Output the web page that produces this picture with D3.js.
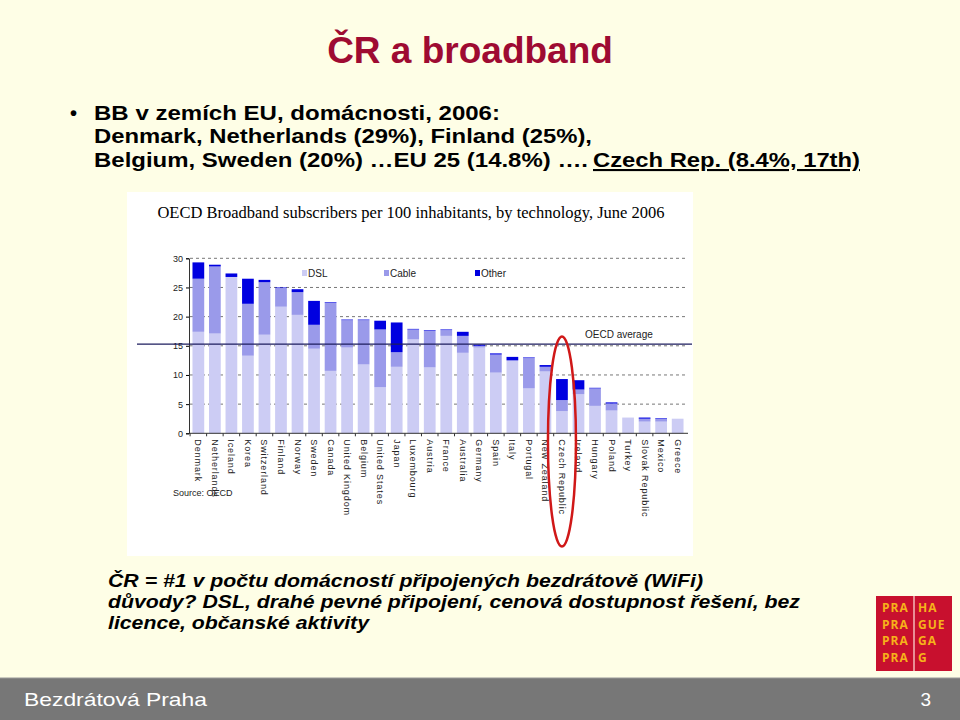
<!DOCTYPE html>
<html>
<head>
<meta charset="utf-8">
<script src="https://cdn.jsdelivr.net/npm/d3@7"></script>
<style>
  body { margin: 0; background: #fefee6; }
  svg { display: block; }
</style>
</head>
<body>
<svg id="slide" width="960" height="720"></svg>
<script>
// data (per 100 inhabitants, cumulative DSL / +cable / +other)
var countries = ["Denmark", "Netherlands", "Iceland", "Korea", "Switzerland", "Finland", "Norway", "Sweden", "Canada", "United Kingdom", "Belgium", "United States", "Japan", "Luxembourg", "Austria", "France", "Australia", "Germany", "Spain", "Italy", "Portugal", "New Zealand", "Czech Republic", "Ireland", "Hungary", "Poland", "Turkey", "Slovak Republic", "Mexico", "Greece"];
var dsl   = [17.4, 17.1, 26.8, 13.3, 16.9, 21.7, 20.3, 14.5, 10.7, 14.7, 11.8, 7.9, 11.4, 16.1, 11.3, 16.7, 13.8, 14.7, 10.4, 12.5, 7.7, 10.6, 3.8, 6.7, 4.7, 3.9, 2.7, 2.0, 2.0, 2.5];
var cable = [9.1, 11.5, 0.0, 8.9, 9.0, 3.2, 3.9, 4.1, 11.7, 4.7, 7.6, 9.9, 2.5, 1.7, 6.3, 1.0, 2.9, 0.3, 3.1, 0.0, 5.2, 0.8, 1.9, 0.8, 3.0, 1.2, 0.0, 0.5, 0.5, 0.0];
var other = [2.8, 0.3, 0.6, 4.3, 0.4, 0.1, 0.5, 4.1, 0.1, 0.1, 0.1, 1.5, 5.1, 0.1, 0.1, 0.1, 0.7, 0.2, 0.2, 0.6, 0.1, 0.3, 3.6, 1.6, 0.1, 0.2, 0.0, 0.2, 0.1, 0.0];
var oecdAverage = 15.3;
var yTicks = [0, 5, 10, 15, 20, 25, 30];
var seriesNames = ["DSL", "Cable", "Other"];
var seriesColors = ["#ccccf4", "#9a9aea", "#0000e0"];

var svg = d3.select("#slide");
var sans = "'Liberation Sans', Arial, sans-serif";
var narrow = "'Liberation Sans Narrow', 'Liberation Sans', sans-serif";

// slide header
svg.append("text").attr("x", 470).attr("y", 63).attr("text-anchor", "middle")
  .style("font", "bold 37px " + sans).style("fill", "#9e0b32")
  .text("ČR a broadband");

svg.append("text").attr("x", 70).attr("y", 120)
  .style("font", "bold 20px " + sans).text("•");

// text lines stretched to the width they have on the slide
function line(txt, x0, y0, w, font, underline) {
  var t = svg.append("text").attr("x", x0).attr("y", y0)
    .attr("textLength", w).attr("lengthAdjust", "spacingAndGlyphs")
    .style("font", font).style("fill", "#000").text(txt);
  if (underline) t.style("text-decoration", "underline");
  return t;
}
var bfont = "bold 21px " + sans;
line("BB v zemích EU, domácnosti, 2006:", 94, 120, 406, bfont);
line("Denmark, Netherlands (29%), Finland (25%),", 94, 143, 498, bfont);
line("Belgium, Sweden (20%) …EU 25 (14.8%) ….", 94, 167, 494, bfont);
line("Czech Rep. (8.4%, 17th)", 593, 167, 267, bfont, true);

// chart picture
var chart = svg.append("g");
chart.append("rect").attr("x", 127).attr("y", 192).attr("width", 566).attr("height", 364).attr("fill", "#fff");
chart.append("text").attr("x", 411).attr("y", 218).attr("text-anchor", "middle")
  .style("font", "16.5px 'Liberation Serif', 'Times New Roman', serif")
  .text("OECD Broadband subscribers per 100 inhabitants, by technology, June 2006");

var x = d3.scaleBand().domain(countries).range([190, 686]).paddingInner(0.29).paddingOuter(0.15);
var y = d3.scaleLinear().domain([0, 30]).range([433.3, 258.3]);

// dashed grid
chart.append("g").selectAll("line").data(yTicks.slice(1)).enter().append("line")
  .attr("x1", 190).attr("x2", 688).attr("y1", d => y(d)).attr("y2", d => y(d))
  .attr("stroke", "#777").attr("stroke-width", 1).attr("stroke-dasharray", "3,3");

// stacked bars
var rows = countries.map((c, i) => ({ name: c, DSL: dsl[i], Cable: cable[i], Other: other[i] }));
var stack = d3.stack().keys(seriesNames)(rows);
chart.append("g").selectAll("g").data(stack).enter().append("g")
  .attr("fill", (d, i) => seriesColors[i])
  .selectAll("rect").data(d => d).enter().append("rect")
  .attr("x", d => x(d.data.name))
  .attr("width", x.bandwidth())
  .attr("y", d => y(d[1]))
  .attr("height", d => Math.max(0, y(d[0]) - y(d[1])));

// axes
var yAxis = chart.append("g").attr("transform", "translate(189,0)")
  .call(d3.axisLeft(y).tickValues(yTicks).tickSize(3).tickPadding(3));
yAxis.select(".domain").attr("stroke", "#333");
yAxis.selectAll("text").style("font", "9px " + narrow).attr("fill", "#222");

chart.append("line").attr("x1", 189).attr("x2", 688).attr("y1", y(0)).attr("y2", y(0)).attr("stroke", "#333");
chart.append("g").selectAll("line").data(countries).enter().append("line")
  .attr("x1", d => x(d) - x.step() * 0.145).attr("x2", d => x(d) - x.step() * 0.145)
  .attr("y1", y(0)).attr("y2", y(0) + 3).attr("stroke", "#333");

chart.append("g").selectAll("text").data(countries).enter().append("text")
  .attr("transform", d => "translate(" + (x(d) + x.bandwidth() / 2) + "," + (y(0) + 6) + ") rotate(90)")
  .attr("dominant-baseline", "central")
  .style("font", "9px " + narrow)
  .style("letter-spacing", "0.9px").attr("fill", "#222")
  .text(d => d);

chart.append("text").attr("x", 173).attr("y", 496)
  .style("font", "9px " + narrow).attr("fill", "#222")
  .text("Source: OECD");

// legend
var legendX = [302, 384, 475];
var lg = chart.append("g").selectAll("g").data(seriesNames).enter().append("g")
  .attr("transform", (d, i) => "translate(" + legendX[i] + ",269)");
lg.append("rect").attr("width", 5).attr("height", 6).attr("y", 1).attr("fill", (d, i) => seriesColors[i]);
lg.append("text").attr("x", 6).attr("y", 8)
  .style("font", "10px " + narrow).attr("fill", "#222")
  .text(d => d);

// OECD average line
chart.append("line").attr("x1", 137).attr("x2", 692).attr("y1", y(oecdAverage)).attr("y2", y(oecdAverage))
  .attr("stroke", "#1c1c5e").attr("stroke-width", 1.3);
chart.append("text").attr("x", 585).attr("y", 338)
  .style("font", "10px " + narrow).attr("fill", "#222")
  .text("OECD average");

// red mark around Czech Republic
var cz = x("Czech Republic") + x.bandwidth() / 2;
chart.append("ellipse").attr("cx", cz).attr("cy", 441.5).attr("rx", 14).attr("ry", 105)
  .attr("fill", "none").attr("stroke", "#d01818").attr("stroke-width", 2.5);

// bottom notes
var nfont = "italic bold 18px " + sans;
line("ČR = #1 v počtu domácností připojených bezdrátově (WiFi)", 108, 587, 595, nfont);
line("důvody? DSL, drahé pevné připojení, cenová dostupnost řešení, bez", 108, 608, 692, nfont);
line("licence, občanské aktivity", 108, 629, 261, nfont);

// logo
var logo = svg.append("g").attr("transform", "translate(876,596)");
logo.append("rect").attr("width", 76).attr("height", 75).attr("fill", "#c8102e");
logo.append("line").attr("x1", 38).attr("x2", 38).attr("y1", 0).attr("y2", 75).attr("stroke", "#f4b8b8").attr("stroke-width", 1.5);
var logoRight = ["HA", "GUE", "GA", "G"];
logoRight.forEach(function (t, i) {
  logo.append("text").attr("x", 6).attr("y", 16 + i * 16.6)
    .style("font", "bold 12px 'Open Sans', sans-serif").style("letter-spacing", "1px").attr("fill", "#f6b21a").text("PRA");
  logo.append("text").attr("x", 42).attr("y", 16 + i * 16.6)
    .style("font", "bold 12px 'Open Sans', sans-serif").style("letter-spacing", "1px").attr("fill", "#f6b21a").text(t);
});

// footer
svg.append("rect").attr("x", 0).attr("y", 678).attr("width", 960).attr("height", 42).attr("fill", "#777");
svg.append("line").attr("x1", 0).attr("x2", 960).attr("y1", 678).attr("y2", 678).attr("stroke", "#999");
svg.append("text").attr("x", 24).attr("y", 706).attr("textLength", 183).attr("lengthAdjust", "spacingAndGlyphs")
  .style("font", "19px " + sans).attr("fill", "#fff").text("Bezdrátová Praha");
svg.append("text").attr("x", 931).attr("y", 706).attr("text-anchor", "end")
  .style("font", "19px " + sans).attr("fill", "#fff").text("3");
</script>
</body>
</html>
